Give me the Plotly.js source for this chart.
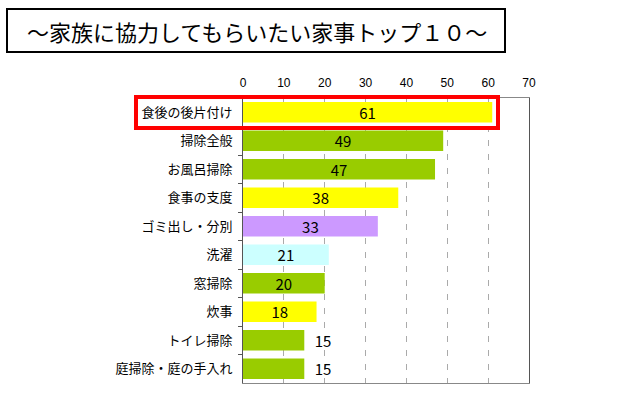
<!DOCTYPE html>
<html><head><meta charset="utf-8">
<script src="https://cdn.plot.ly/plotly-3.0.1.min.js"></script>
<style>html,body{margin:0;padding:0;background:#fff;}#chart{width:640px;height:395px;}</style>
</head><body><div id="chart"></div>
<script>
const categories = ["食後の後片付け","掃除全般","お風呂掃除","食事の支度","ゴミ出し・分別","洗濯","窓掃除","炊事","トイレ掃除","庭掃除・庭の手入れ"];
const values = [61,49,47,38,33,21,20,18,15,15];
const barColors = ["#FFFF00","#99CC00","#99CC00","#FFFF00","#CC99FF","#CCFFFF","#99CC00","#FFFF00","#99CC00","#99CC00"];
const xTicks = [0,10,20,30,40,50,60,70];
const titleText = "～家族に協力してもらいたい家事トップ１０～";

const FONT = "'Noto Sans CJK JP', 'Noto Sans', sans-serif";
const L=243, R=111, T=98, B=12, W=640, H=395;
const pw = W-L-R, ph = H-T-B;
const px = v => (v-L)/pw;
const py = v => (H-B-v)/ph;

const trace = {
  type:'bar', orientation:'h',
  y: categories, x: values,
  marker:{color: barColors, line:{width:0}},
  width: 0.72,
  text: values.map(v => v >= 18 ? String(v) : '\u2002' + v),
  textposition: values.map(v => v >= 18 ? 'inside' : 'outside'),
  insidetextanchor:'middle',
  textangle: 0,
  constraintext:'none',
  cliponaxis:false,
  textfont:{family:FONT, size:15, color:'#000'},
  hoverinfo:'none'
};

const layout = {
  width:W, height:H,
  margin:{l:L, r:R, t:T, b:B, pad:0},
  paper_bgcolor:'#fff', plot_bgcolor:'#fff',
  showlegend:false,
  font:{family:FONT, color:'#000'},
  xaxis:{
    side:'top', range:[0,70], tickvals:xTicks, ticktext:xTicks.map(String),
    showgrid:true, gridcolor:'#aaa', griddash:'6px,8px', gridwidth:1,
    zeroline:false, showline:true, linecolor:'#888', linewidth:1, mirror:true,
    ticks:'', tickfont:{family:"'Liberation Sans', Arial, sans-serif", size:12, color:'#000'},
    ticklabelstandoff:5, fixedrange:true
  },
  yaxis:{
    type:'category', autorange:'reversed',
    showgrid:false, zeroline:false, showline:true, linecolor:'#555', linewidth:1, mirror:true,
    ticks:'outside', tickson:'boundaries', ticklen:4, tickcolor:'#555',
    tickfont:{family:FONT, size:13, color:'#000'},
    ticklabelstandoff:7, fixedrange:true
  },
  shapes:[
    {type:'rect', xref:'paper', yref:'paper', x0:px(7), x1:px(505), y0:py(52), y1:py(9),
     line:{color:'#000', width:2}, fillcolor:'rgba(0,0,0,0)'},
    {type:'rect', xref:'paper', yref:'paper', x0:px(136), x1:px(498), y0:py(128), y1:py(97),
     line:{color:'#FF0000', width:4}, fillcolor:'rgba(0,0,0,0)', layer:'above'}
  ],
  annotations:[
    {xref:'paper', yref:'paper', x:px(257), y:py(31), xanchor:'center', yanchor:'middle',
     text:titleText, showarrow:false, font:{family:FONT, size:22, color:'#000'}}
  ]
};

Plotly.newPlot('chart',[trace],layout,{staticPlot:true, displayModeBar:false});
</script></body></html>
